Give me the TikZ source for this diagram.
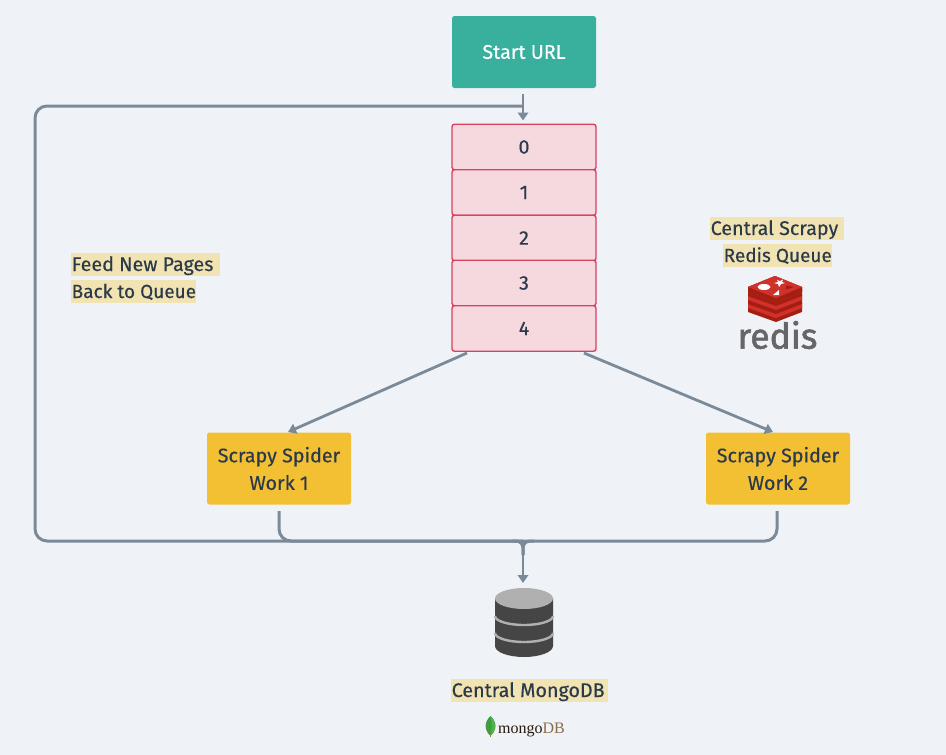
\documentclass[tikz,border=0pt]{standalone}
\usepackage{fontspec}
\setmainfont{Fira Sans}[FakeBold=0.35]
\newfontfamily\redisfont{Fira Sans}[FakeBold=1.6]
\newfontfamily\mongofont{Liberation Serif}
\usetikzlibrary{arrows.meta,calc}
\definecolor{bgc}{HTML}{EFF3F7}
\definecolor{teal}{HTML}{38B09D}
\definecolor{pinkf}{HTML}{F6D8DF}
\definecolor{pinkd}{HTML}{D9415F}
\definecolor{amber}{HTML}{F4C033}
\definecolor{linec}{HTML}{7B8A99}
\definecolor{inkc}{HTML}{2B3A4A}
\definecolor{hl}{HTML}{F2E3B3}
\definecolor{redisa}{HTML}{D0312A}
\definecolor{redisb}{HTML}{A41E11}
\definecolor{redisg}{HTML}{666668}
\definecolor{dbd}{HTML}{454545}
\definecolor{dbl}{HTML}{B0B0B0}
\definecolor{leafa}{HTML}{3F9C3F}
\definecolor{leafb}{HTML}{52B04F}
\tikzset{
  x=1pt,y=-1pt,
  conn/.style={draw=linec,line width=3pt,rounded corners=12pt},
  flow/.style={draw=linec,line width=2.8pt,-{Triangle[length=8pt,width=10.5pt]}},
  boxbase/.style={minimum width=144pt,rounded corners=2.5pt,inner sep=0pt,align=center,font=\fontsize{19.7}{27.5}\selectfont,text=inkc},
  startbox/.style={boxbase,minimum height=72pt,fill=teal,text=white},
  cell/.style={boxbase,minimum height=45.5pt,fill=pinkf,draw=pinkd,line width=1.4pt},
  worker/.style={boxbase,minimum height=72pt,fill=amber},
  hilite/.style={fill=hl,text=inkc,inner sep=0pt,anchor=west,text height=18pt,text depth=5pt,font=\fontsize{19.7}{22}\selectfont},
  hilitesmall/.style={hilite,font=\fontsize{19}{22}\selectfont},
}
\begin{document}
\begin{tikzpicture}
\useasboundingbox (0,0) rectangle (946,755);
\fill[bgc] (0,0) rectangle (946,755);
\node[startbox] (start) at (524,52) {Start URL};
\node[cell] (q0) at (524,147) {0};
\node[cell] (q1) at (524,192.5) {1};
\node[cell] (q2) at (524,238) {2};
\node[cell] (q3) at (524,283) {3};
\node[cell] (q4) at (524,328.5) {4};
\node[worker] (w1) at (279,468.5) {Scrapy Spider\\Work 1};
\node[worker] (w2) at (778,468.5) {Scrapy Spider\\Work 2};
\coordinate (db) at (523,583);
\coordinate (startout) at (523,94);
\coordinate (qin) at (523,120.5);
\coordinate (join) at (523,541);
\coordinate (q4l) at (467,353);
\coordinate (q4r) at (584,353);
\coordinate (w1in) at (288,432);
\coordinate (w2in) at (773,432);
\coordinate (w1out) at (279,511);
\coordinate (w2out) at (777,511);
\draw[flow] (startout) -- (qin);
\draw[flow] (q4l) -- (w1in);
\draw[flow] (q4r) -- (w2in);
\draw[conn] (w1out) -- (279,541) -- (join);
\draw[conn] (w2out) -- (777,541) -- (join);
\draw[conn] (join) -- (35,541) -- (35,106) -- (523,106);
\draw[conn,rounded corners=7pt] (512,541) -- (523,541) -- (523,555);
\draw[conn,rounded corners=7pt] (534,541) -- (523,541) -- (523,555);
\draw[flow] (join) -- (db);
% labels
\node[hilite] (l1) at (71,264.5) {\makebox[149pt][l]{\hspace{0.5pt}Feed New Pages}};
\node[hilitesmall] (l2) at (71,291.5) {\makebox[125pt][l]{\hspace{0.5pt}Back to Queue}};
\node[hilite] (l3) at (710,228.5) {\makebox[134pt][l]{\hspace{0.5pt}Central Scrapy}};
\node[hilitesmall] (l4) at (723,255.5) {\makebox[109pt][l]{\hspace{0.5pt}Redis Queue}};
\node[hilite] (l5) at (451,690.5) {\makebox[157pt][l]{\hspace{0.5pt}Central MongoDB}};
% redis logo
\foreach \o in {16,8,0}{
  \fill[redisb] (748,287+\o) -- (775,276+\o) -- (802,287+\o) -- (802,296+\o) -- (776,306+\o) -- (748,296+\o) -- cycle;
  \fill[redisa] (748,287+\o) -- (775,276+\o) -- (802,287+\o) -- (802,292+\o) -- (776,302+\o) -- (748,292+\o) -- cycle;
}
\fill[redisb] (748,287) -- (776,298) -- (802,287) -- (802,292) -- (776,302) -- (748,292) -- cycle;
\fill[redisa] (748,287) -- (775,276) -- (802,287) -- (776,298) -- cycle;
\fill[white] (764,287) ellipse [x radius=6.5pt,y radius=3pt];
\fill[white] (773,295) -- (779,290) -- (779,295) -- cycle;
\fill[white] (777,280) -- (780,281) -- (783,279.5) -- (782,282) -- (785,283) -- (781,284) -- (779,287) -- (778,284) -- (774,283) -- (778,282) -- cycle;
\fill[redisb] (786,285.5) -- (794,287) -- (786,289.5) -- cycle;
\node[inner sep=0pt,text=redisg,font=\redisfont\fontsize{35.5}{36}\selectfont] (redis) at (777.5,335) {redis};
% database
\fill[dbd] (495,598) -- (495,646) arc [start angle=180,end angle=0,x radius=29pt,y radius=-11pt] -- (553,598) -- cycle;
\fill[dbl] (524,598.5) ellipse [x radius=29pt,y radius=10.5pt];
\draw[dbl,line width=2.4pt] (495,616) arc [start angle=180,end angle=0,x radius=29pt,y radius=-9pt];
\draw[dbl,line width=2.4pt] (495,633) arc [start angle=180,end angle=0,x radius=29pt,y radius=-9pt];
% mongodb logo
\fill[leafa] (490.5,716) .. controls (484,722) and (484,730) .. (490.5,736) .. controls (497,730) and (497,722) .. (490.5,716) -- cycle;
\fill[leafb] (490.5,716) .. controls (492,722) and (492,730) .. (490.5,736) .. controls (497,730) and (497,722) .. (490.5,716) -- cycle;
\draw[olive!60!gray,line width=0.5pt] (490.5,734) -- (490.5,737);
\node[inner sep=0pt,anchor=west,font=\mongofont\fontsize{16}{16}\selectfont,text=black!80!brown] (mongo) at (498,729.5) {mongo\textcolor[HTML]{8A6D4B}{DB}};
\end{tikzpicture}
\end{document}
